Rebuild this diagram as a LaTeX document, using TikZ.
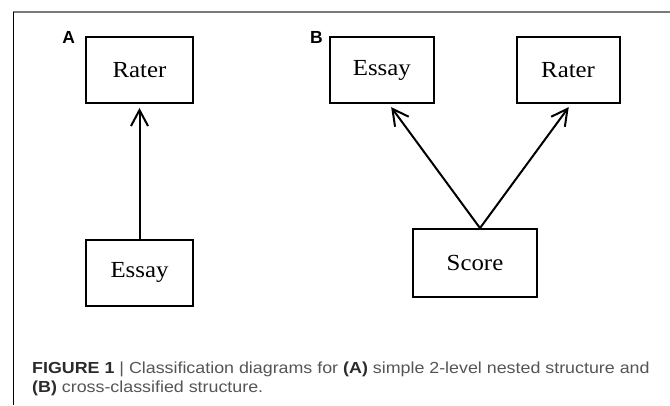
\documentclass[tikz,border=0pt]{standalone}
\usepackage{fontspec}
\setmainfont[FakeStretch=1.08]{Liberation Serif}
\newfontfamily\capfont[FakeStretch=1.115]{Liberation Sans}
\newfontfamily\lblfont{Liberation Sans}
\usepackage{tikz}
\usetikzlibrary{arrows.meta,positioning,calc}
\usepackage{xcolor}
\definecolor{capgray}{HTML}{555555}
\definecolor{capdark}{HTML}{2B2B2B}
\definecolor{framegray}{HTML}{7A7A7A}

\begin{document}
\begin{tikzpicture}[x=1pt,y=-1pt,
    box/.style={draw,line width=1.8pt,minimum width=107pt,minimum height=66pt,inner sep=0pt,font=\fontsize{23}{28}\selectfont},
    lbl/.style={font=\lblfont\bfseries\fontsize{17.5}{20}\selectfont,inner sep=0pt},
    arr/.style={-{Straight Barb[length=16pt,width=17pt,line width=2pt]},line width=2pt,shorten >=4pt},
    captxt/.style={font=\capfont\fontsize{16}{19}\selectfont,color=capgray,inner sep=0pt,anchor=base west}
]
\useasboundingbox (0,0) rectangle (670,405);
\draw[framegray,line width=1.4pt] (13,12) -- (670,12);
\draw[line width=0.9pt] (13,12) -- (13,405);

% (A) nested
\node[box] (raterA) at (139.5,70) {Rater};
\node[box,below=135pt of raterA] (essayA) {Essay};
\node[lbl,anchor=north east] (labA) at ([xshift=-10pt,yshift=5pt]raterA.north west) {A};
\draw[arr] (essayA) -- (raterA);

% (B) cross-classified
\node[box,minimum width=104pt,right=135pt of raterA] (essayB) {Essay};
\node[box,minimum width=103pt,right=81pt of essayB] (raterB) {Rater};
\node[box,minimum width=124pt,minimum height=68pt] (score) at (475,263) {Score};
\node[lbl,anchor=north east] (labB) at ([xshift=-6pt,yshift=5pt]essayB.north west) {B};
\draw[arr] ([xshift=5pt]score.north) -- ([xshift=7pt]essayB.south);
\draw[arr] ([xshift=5pt]score.north) -- ([xshift=3pt]raterB.south);

% caption
\node[captxt] (cap1) at (32,373) {{\bfseries\color{capdark}FIGURE 1} | Classification diagrams for {\bfseries\color{capdark}(A)} simple 2-level nested structure and};
\node[captxt] (cap2) at ([yshift=-19pt]cap1.base west) {{\bfseries\color{capdark}(B)} cross-classified structure.};
\end{tikzpicture}
\end{document}
